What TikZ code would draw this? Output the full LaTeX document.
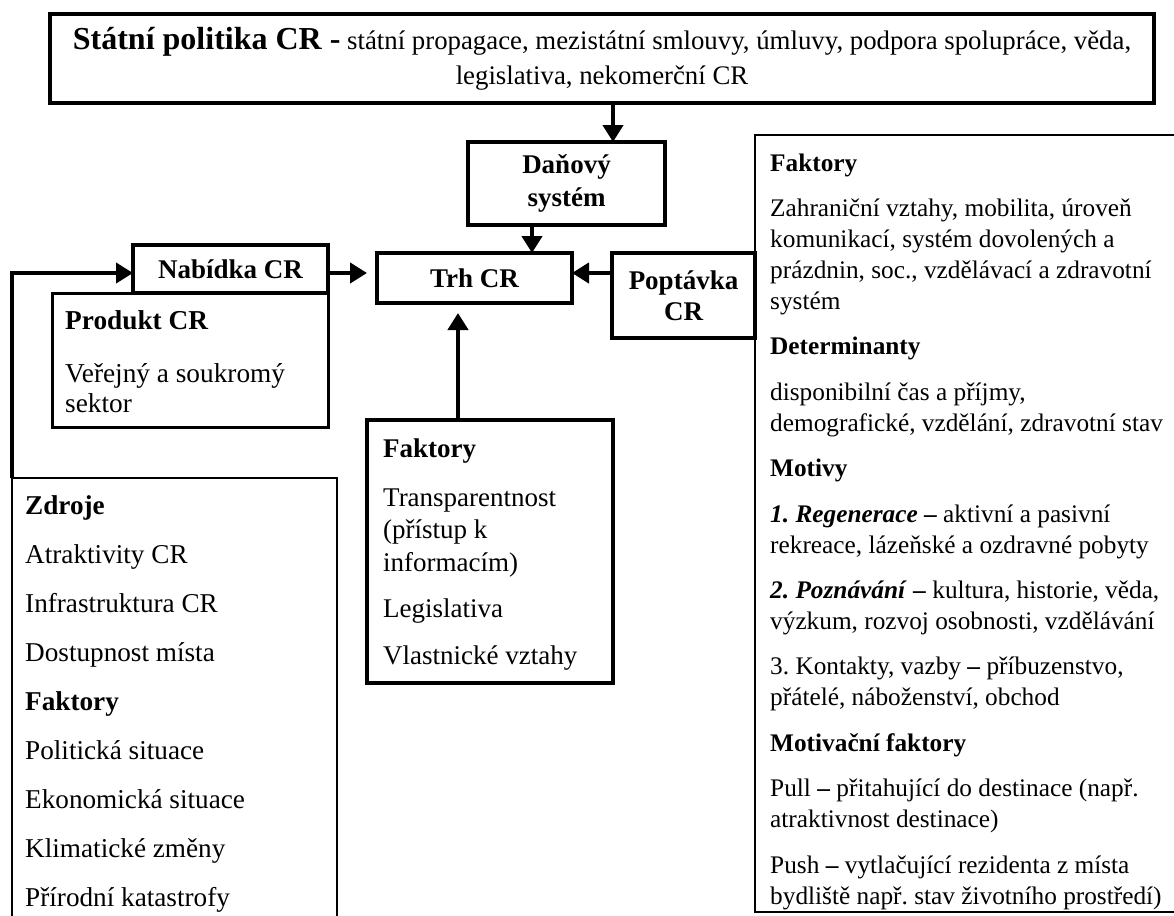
\documentclass[tikz,border=0pt]{standalone}
\usepackage{fontspec}
\setmainfont{Liberation Serif}
\usetikzlibrary{arrows.meta}
\frenchspacing

\begin{document}
\begin{tikzpicture}[x=1pt, y=-1pt,
    box/.style={draw, line width=4pt, inner sep=0pt, outer sep=0pt, align=center,
                font=\bfseries\fontsize{27}{33}\selectfont},
    panel/.style={draw, line width=2.5pt, inner sep=0pt, outer sep=0pt},
    txt/.style={anchor=base west, align=left, inner sep=0pt},
    arr/.style={line width=4.5pt, -{Triangle[length=17pt,width=20pt]}}]
    \useasboundingbox (0,0) rectangle (1174,915);
    \clip (0,0) rectangle (1174,915);

    % top and middle row
    \node[box, minimum width=1104pt, minimum height=89pt,
          font=\fontsize{26.8}{35}\selectfont] (statni) at (602,59)
        {\textbf{\fontsize{32}{35}\selectfont Státní politika CR -} státní propagace, mezistátní smlouvy, úmluvy, podpora spolupráce, věda,\\
         legislativa, nekomerční CR};
    \node[box, minimum width=197pt, minimum height=83pt] (danovy) at (566.5,183.5) {Daňový\\systém};
    \node[box, minimum width=195pt, minimum height=48pt] (nabidka) at (230.5,269) {Nabídka CR};
    \node[box, minimum width=195pt, minimum height=50pt] (trh) at (474.5,278) {Trh CR};
    \node[box, minimum width=143pt, minimum height=85pt, font=\bfseries\fontsize{27}{31}\selectfont]
        (poptavka) at (683.5,295.5) {Poptávka\\CR};

    % panels
    \node[panel, line width=3pt, minimum width=276pt, minimum height=134pt] (produkt) at (190,360) {};
    \node[box, minimum width=246pt, minimum height=263pt] (pravidla) at (490,551.5) {};
    \node[panel, minimum width=325pt, minimum height=457pt] (zdroje) at (174.5,706.5) {};
    \node[panel, minimum width=430pt, minimum height=777pt] (poptfaktory) at (970,523.5) {};

    % panel texts (base = last line)
    \node[txt, font=\fontsize{27.3}{30}\selectfont] (produkttext) at (65,412)
        {\textbf{Produkt CR}\\[23pt]
         Veřejný a soukromý\\
         sektor};
    \node[txt, font=\fontsize{27}{32.5}\selectfont] (pravidlatext) at (383,664)
        {\textbf{Faktory}\\[16pt]
         Transparentnost\\
         (přístup k\\
         informacím)\\[14pt]
         Legislativa\\[14pt]
         Vlastnické vztahy};
    \node[txt, font=\fontsize{27.2}{49}\selectfont] (zdrojetext) at (25,906)
        {\textbf{Zdroje}\\
         Atraktivity CR\\
         Infrastruktura CR\\
         Dostupnost místa\\
         \textbf{Faktory}\\
         Politická situace\\
         Ekonomická situace\\
         Klimatické změny\\
         Přírodní katastrofy};
    \node[txt, font=\fontsize{25.3}{31}\selectfont] (poptext) at (770,904)
        {\textbf{Faktory}\\[14.4pt]
         Zahraniční vztahy, mobilita, úroveň\\
         komunikací, systém dovolených a\\
         prázdnin, soc., vzdělávací a zdravotní\\
         systém\\[14.4pt]
         \textbf{Determinanty}\\[14.4pt]
         disponibilní čas a příjmy,\\
         demografické, vzdělání, zdravotní stav\\[14.4pt]
         \textbf{Motivy}\\[14.4pt]
         \textbf{\textit{1. Regenerace} –} aktivní a pasivní\\
         rekreace, lázeňské a ozdravné pobyty\\[14.4pt]
         \textbf{\textit{2. Poznávání} –} kultura, historie, věda,\\
         výzkum, rozvoj osobnosti, vzdělávání\\[14.4pt]
         3. Kontakty, vazby \textbf{–} příbuzenstvo,\\
         přátelé, náboženství, obchod\\[14.4pt]
         \textbf{Motivační faktory}\\[14.4pt]
         Pull \textbf{–} přitahující do destinace (např.\\
         atraktivnost destinace)\\[14.4pt]
         Push \textbf{–} vytlačující rezidenta z místa\\
         bydliště např. stav životního prostředí)};

    % arrows
    \draw[arr] (statni.south -| 613,0) -- (danovy.north -| 613,0);
    \draw[arr] (danovy.south -| 532,0) -- (trh.north -| 532,0);
    \draw[arr, shorten >=10pt] (nabidka.east |- 0,273) -- (trh.west |- 0,273);
    \draw[arr] (poptavka.west |- 0,273) -- (trh.east |- 0,273);
    \draw[arr, shorten >=10pt] (pravidla.north -| 458,0) -- (trh.south -| 458,0);
    \draw[arr, line width=4pt] (zdroje.north west) |- (nabidka.west |- 0,273);
\end{tikzpicture}
\end{document}
